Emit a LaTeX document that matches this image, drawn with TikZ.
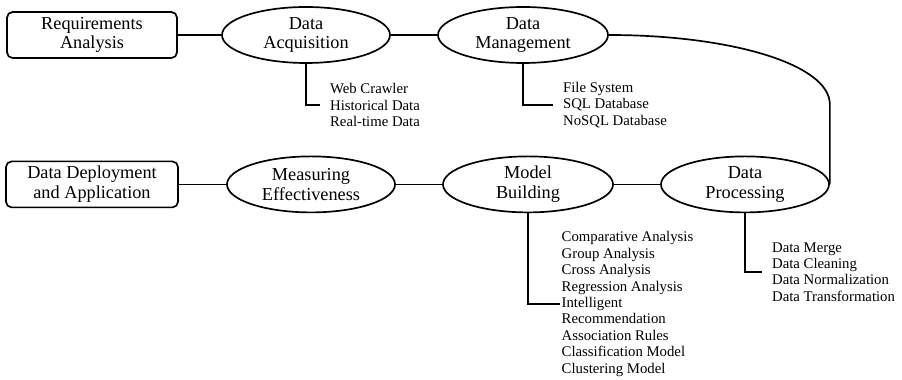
\documentclass[tikz,border=0pt]{standalone}
\usepackage{fontspec}
\setmainfont{Liberation Serif}
\usetikzlibrary{shapes.geometric}

\begin{document}
\begin{tikzpicture}[scale = 1,
	stage/.style={draw=black, line width=1.2pt, rounded corners=4pt, minimum width=4.25cm, minimum height=1.15cm, align=center, font=\fontsize{13}{14}\selectfont},
	phase/.style={ellipse, draw=black, line width=1.2pt, minimum width=4.2cm, minimum height=1.4cm, inner sep=0pt, align=center, font=\fontsize{13}{14}\selectfont},
	items/.style={anchor=west, align=left, inner xsep=7pt, font=\fontsize{10.5}{11.7}\selectfont},
	link/.style={line width=1.2pt}]
	\useasboundingbox (0,0) rectangle (22.55,9.5);

	% top row
	\node[stage] (req) at (2.3,8.625) {Requirements\\Analysis};
	\node[phase] (acq) at (7.65,8.625) {Data\\Acquisition};
	\node[phase, minimum width=4.25cm] (mgmt) at (13.075,8.625) {Data\\Management};

	% bottom row
	\node[stage, minimum width=4.3cm] (deploy) at (2.3,4.89) {Data Deployment\\and Application};
	\node[phase] (measure) at (7.775,4.89) {Measuring\\Effectiveness};
	\node[phase, minimum width=4.25cm] (model) at (13.2,4.89) {Model\\Building};
	\node[phase] (proc) at (18.625,4.89) {Data\\Processing};

	\node[items] (acqlist) at (8.0,6.875) {Web Crawler\\Historical Data\\Real-time Data};
	\node[items] (mgmtlist) at (13.825,6.875) {File System\\SQL Database\\NoSQL Database};
	\node[items, inner xsep=1pt] (modellist) at (14.0,1.9) {Comparative Analysis\\Group Analysis\\Cross Analysis\\Regression Analysis\\Intelligent\\Recommendation\\Association Rules\\Classification Model\\Clustering Model};
	\node[items] (proclist) at (19.05,2.7) {Data Merge\\Data Cleaning\\Data Normalization\\Data Transformation};

	\coordinate (bend) at ([yshift=2cm]proc.east);

	\draw[link] (req) -- (acq);
	\draw[link] (acq) -- (mgmt);
	\draw[link] (mgmt.east) .. controls +(3.05,0) and +(0,1.0) .. (bend) -- (proc.east);
	\draw[link] (proc) -- (model);
	\draw[link] (model) -- (measure);
	\draw[link] (measure) -- (deploy);

	\draw[link] (acq.south) |- (acqlist.west);
	\draw[link] (mgmt.south) |- (mgmtlist.west);
	\draw[link] (model.south) |- (modellist.west);
	\draw[link] (proc.south) |- (proclist.west);
\end{tikzpicture}
\end{document}
